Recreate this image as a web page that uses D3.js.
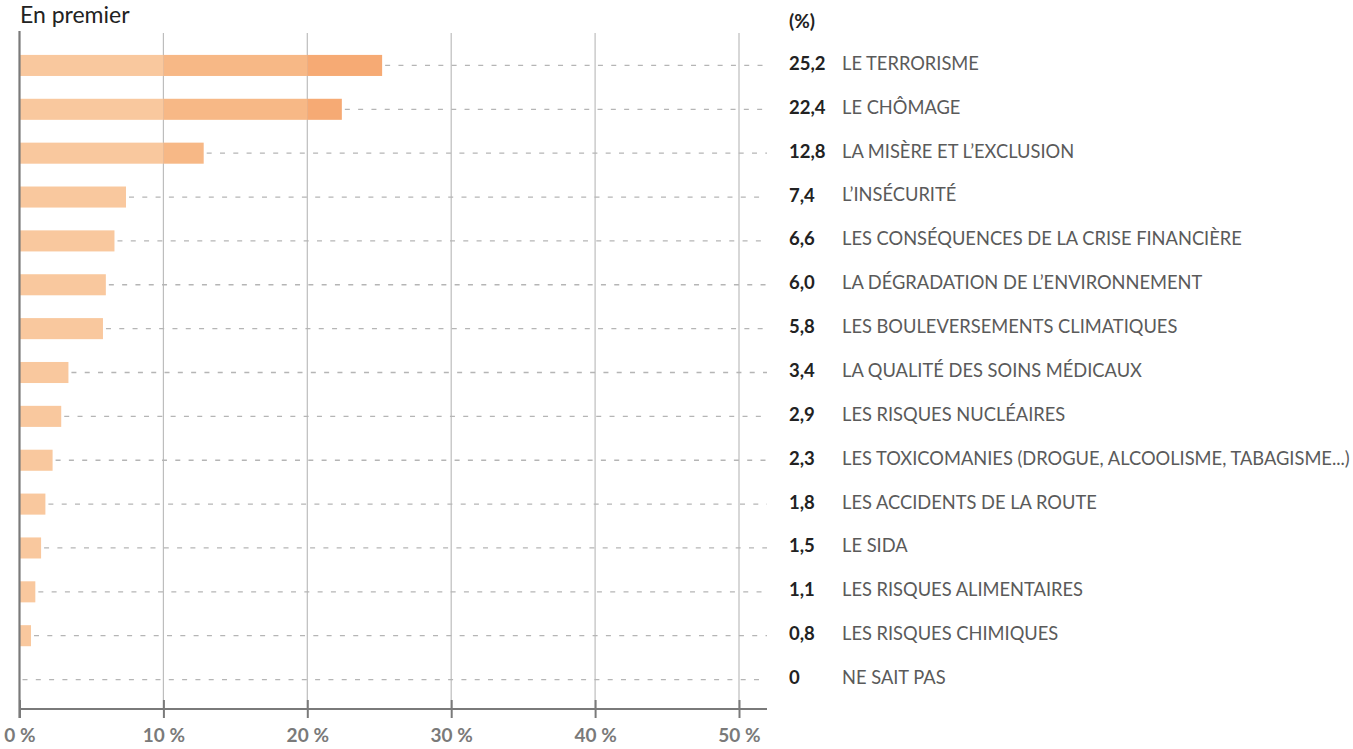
<!DOCTYPE html>
<html>
<head>
<meta charset="utf-8">
<script src="https://cdn.jsdelivr.net/npm/d3@7"></script>
<style>
  body { margin: 0; background: #fff; }
  svg { display: block; }
  text { font-family: Lato, "Open Sans", sans-serif; }
</style>
</head>
<body>
<div id="chart"></div>
<script>
// data
var categories = [
    "LE TERRORISME",
    "LE CHÔMAGE",
    "LA MISÈRE ET L’EXCLUSION",
    "L’INSÉCURITÉ",
    "LES CONSÉQUENCES DE LA CRISE FINANCIÈRE",
    "LA DÉGRADATION DE L’ENVIRONNEMENT",
    "LES BOULEVERSEMENTS CLIMATIQUES",
    "LA QUALITÉ DES SOINS MÉDICAUX",
    "LES RISQUES NUCLÉAIRES",
    "LES TOXICOMANIES (DROGUE, ALCOOLISME, TABAGISME...)",
    "LES ACCIDENTS DE LA ROUTE",
    "LE SIDA",
    "LES RISQUES ALIMENTAIRES",
    "LES RISQUES CHIMIQUES",
    "NE SAIT PAS"
];
var values = [25.2, 22.4, 12.8, 7.4, 6.6, 6.0, 5.8, 3.4, 2.9, 2.3, 1.8, 1.5, 1.1, 0.8, 0];
var ticks = [0, 10, 20, 30, 40, 50];
// tint bands behind the bars, one per decade
var bands = [[0, 10], [10, 20], [20, 30]];
var bandColors = ["#f9c89e", "#f7b886", "#f6aa74"];

var width = 1353,
    height = 749;

var svg = d3.select('#chart').append('svg')
    .attr('width', width)
    .attr('height', height);

var x = d3.scaleLinear().domain([0, 50]).range([19.5, 739]);
var y = d3.scaleBand().domain(d3.range(categories.length))
    .range([43.5, 701.5]).paddingInner(0.52).paddingOuter(0.26);

var fmt = function(v) { return v === 0 ? '0' : d3.format('.1f')(v).replace('.', ','); };

// title
svg.append('text')
    .attr('x', 20).attr('y', 23)
    .attr('font-size', 23)
    .attr('fill', '#222')
    .text('En premier');

svg.append('text')
    .attr('x', 789).attr('y', 28)
    .attr('font-size', 19)
    .attr('font-weight', 'bold')
    .attr('fill', '#222')
    .text('(%)');

// vertical grid
svg.append('g').selectAll('line')
    .data(ticks.slice(1))
    .enter().append('line')
    .attr('x1', function(d) { return x(d); })
    .attr('x2', function(d) { return x(d); })
    .attr('y1', 33).attr('y2', 709)
    .attr('stroke', '#bdbdbd')
    .attr('stroke-width', 1.2);

// dashed leaders
var rows = svg.append('g').selectAll('g')
    .data(values)
    .enter().append('g');

rows.append('line')
    .attr('x1', function(d) { return x(d) + 3; })
    .attr('x2', 767)
    .attr('y1', function(d, i) { return y(i) + y.bandwidth() / 2; })
    .attr('y2', function(d, i) { return y(i) + y.bandwidth() / 2; })
    .attr('stroke', '#b5b5b5')
    .attr('stroke-width', 1.3)
    .attr('stroke-dasharray', '5,8.3');

// bars, split into decade tints
rows.each(function(v, i) {
    var g = d3.select(this);
    bands.forEach(function(b, k) {
        if (v <= b[0]) return;
        g.append('rect')
            .attr('x', x(b[0]))
            .attr('y', y(i))
            .attr('width', x(Math.min(v, b[1])) - x(b[0]))
            .attr('height', y.bandwidth())
            .attr('fill', bandColors[k]);
    });
});

rows.append('text')
    .attr('x', 789)
    .attr('y', function(d, i) { return y(i) + y.bandwidth() / 2 - 2; })
    .attr('dy', '0.35em')
    .attr('font-size', 18.5)
    .attr('font-weight', 'bold')
    .attr('fill', '#222')
    .text(fmt);

rows.append('text')
    .attr('x', 842)
    .attr('y', function(d, i) { return y(i) + y.bandwidth() / 2 - 2; })
    .attr('dy', '0.35em')
    .attr('font-size', 18.3)
    .attr('fill', '#5a5a5a')
    .text(function(d, i) { return categories[i]; });

// left axis line
svg.append('line')
    .attr('x1', x(0)).attr('x2', x(0))
    .attr('y1', 31).attr('y2', 718)
    .attr('stroke', '#7a7a7a')
    .attr('stroke-width', 2.2);

// bottom axis
var xAxis = d3.axisBottom(x)
    .tickValues(ticks)
    .tickSize(9)
    .tickFormat(function(d) { return d + '\u202f%'; });

var ax = svg.append('g')
    .attr('transform', 'translate(0,709)')
    .call(xAxis);

ax.select('.domain').remove();
ax.append('line')
    .attr('x1', x(0)).attr('x2', 767)
    .attr('stroke', '#7a7a7a')
    .attr('stroke-width', 2);
ax.selectAll('.tick line')
    .attr('y1', -9)
    .attr('stroke', '#7a7a7a')
    .attr('stroke-width', 2);
ax.selectAll('.tick text')
    .attr('y', 20)
    .attr('dy', '0.71em')
    .attr('font-family', 'Lato, sans-serif')
    .attr('font-size', 19)
    .attr('font-weight', 'bold')
    .attr('fill', '#7a7a7a');
</script>
</body>
</html>
